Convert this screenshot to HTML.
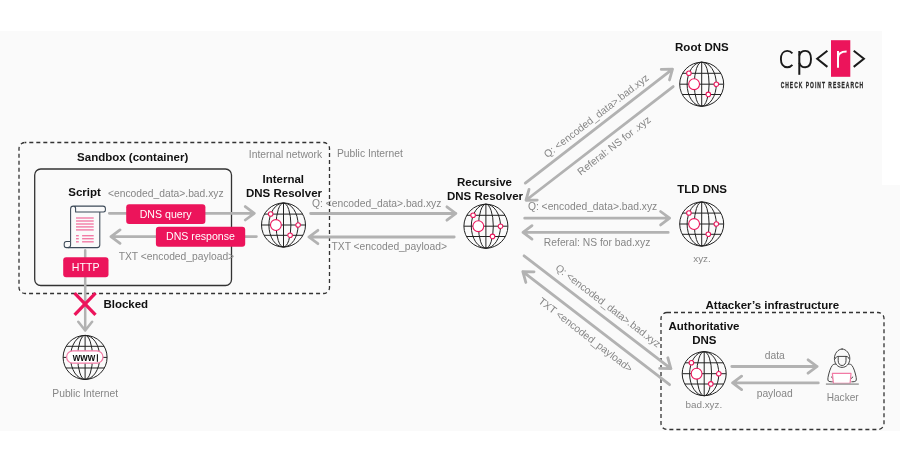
<!DOCTYPE html>
<html><head><meta charset="utf-8">
<style>
html,body{margin:0;padding:0;background:#fff;}
body{width:900px;height:470px;overflow:hidden;}
svg{display:block;will-change:transform;font-family:"Liberation Sans",sans-serif;}
</style></head><body>
<svg width="900" height="470" viewBox="0 0 900 470">
<defs>
<g id="globe">
  <g fill="none" stroke="#222" stroke-width="1.0">
    <circle cx="0" cy="0" r="22"/>
    <ellipse cx="0" cy="0" rx="7.4" ry="22"/>
    <ellipse cx="0" cy="0" rx="14.6" ry="22"/>
    <line x1="0" y1="-22" x2="0" y2="22"/>
    <line x1="-22" y1="0" x2="22" y2="0"/>
    <line x1="-19.1" y1="-10.9" x2="19.1" y2="-10.9"/>
    <line x1="-19.4" y1="10.3" x2="19.4" y2="10.3"/>
  </g>
  <g fill="#fff" stroke="#ec145b" stroke-width="1.05">
    <circle cx="-7.6" cy="0" r="5.4"/>
    <circle cx="-12.8" cy="-11" r="2.3"/>
    <circle cx="14.6" cy="0" r="2.3"/>
    <circle cx="6.6" cy="10.2" r="2.3"/>
  </g>
</g>
<g id="globew">
  <g fill="none" stroke="#222" stroke-width="1.0">
    <circle cx="0" cy="0" r="22"/>
    <ellipse cx="0" cy="0" rx="7.4" ry="22"/>
    <ellipse cx="0" cy="0" rx="14.6" ry="22"/>
    <line x1="0" y1="-22" x2="0" y2="22"/>
    <line x1="-22" y1="0" x2="22" y2="0"/>
    <line x1="-19" y1="-11.1" x2="19" y2="-11.1"/>
    <line x1="-19.1" y1="10.6" x2="19.1" y2="10.6"/>
  </g>
  <rect x="-18.5" y="-6.6" width="36.4" height="12.4" rx="6.2" fill="#fff" stroke="#f27aa5" stroke-width="1.25"/>
</g>
</defs>

<rect x="0" y="31" width="900" height="400" fill="#fafafa"/>
<rect x="882" y="0" width="18" height="185" fill="#fff"/>
<rect x="19" y="142.5" width="310.5" height="151" rx="6" fill="none" stroke="#333" stroke-width="1.3" stroke-dasharray="4 3" stroke-dashoffset="2.7"/>
<rect x="34.7" y="169" width="196.8" height="116.5" rx="6" fill="none" stroke="#333" stroke-width="1.3"/>
<rect x="661" y="312.5" width="223" height="117" rx="6" fill="none" stroke="#333" stroke-width="1.3" stroke-dasharray="4 3"/>
<g fill="none" stroke="#b2b2b2" stroke-width="2.8" stroke-linecap="round" stroke-linejoin="round"><path d="M109.30,213.30 L254.30,213.30 M245.30,220.00 L254.30,213.30 L245.30,206.60"/><path d="M256.40,236.60 L111.00,236.60 M120.00,229.90 L111.00,236.60 L120.00,243.30"/><path d="M310.60,213.50 L455.90,213.50 M446.90,220.20 L455.90,213.50 L446.90,206.80"/><path d="M454.20,237.00 L308.90,237.00 M317.90,230.30 L308.90,237.00 L317.90,243.70"/><path d="M525.31,183.14 L672.49,69.16 M669.48,79.97 L672.49,69.16 L661.28,69.37"/><path d="M673.19,86.56 L526.01,200.24 M529.03,189.44 L526.01,200.24 L537.23,200.04"/><path d="M524.70,218.20 L669.60,218.20 M660.60,224.90 L669.60,218.20 L660.60,211.50"/><path d="M668.20,232.40 L523.00,232.40 M532.00,225.70 L523.00,232.40 L532.00,239.10"/><path d="M524.11,255.85 L670.89,368.55 M659.67,368.38 L670.89,368.55 L667.83,357.75"/><path d="M669.59,384.65 L522.81,271.65 M534.03,271.83 L522.81,271.65 L525.85,282.45"/><path d="M731.80,366.50 L817.10,366.50 M808.10,373.20 L817.10,366.50 L808.10,359.80"/><path d="M818.30,382.90 L732.60,382.90 M741.60,376.20 L732.60,382.90 L741.60,389.60"/></g>
<g fill="none" stroke="#b2b2b2" stroke-width="2.5" stroke-linecap="round" stroke-linejoin="round"><path d="M85.20,250.30 L85.20,330.60 M78.30,321.80 L85.20,330.60 L92.10,321.80"/></g>
<rect x="126.2" y="204.2" width="79.2" height="19.7" rx="3" fill="#ec145b"/>
<rect x="155.9" y="226.7" width="89.3" height="20.1" rx="3" fill="#ec145b"/>
<rect x="63.2" y="257.2" width="45.3" height="20.1" rx="3" fill="#ec145b"/>
<text x="165.6" y="217.6" font-size="10.6" font-weight="400" fill="#fff" text-anchor="middle" >DNS query</text>
<text x="200.5" y="240.1" font-size="10.6" font-weight="400" fill="#fff" text-anchor="middle" >DNS response</text>
<text x="85.7" y="271" font-size="10.6" font-weight="400" fill="#fff" text-anchor="middle" >HTTP</text>
<g stroke="#ec145b" stroke-width="3.3"><line x1="74.6" y1="293.2" x2="95.5" y2="314.8"/><line x1="95.5" y1="293.2" x2="74.6" y2="314.8"/></g>
<use href="#globe" x="283.5" y="225"/>
<use href="#globe" x="485.9" y="226.2"/>
<use href="#globe" x="701.7" y="84.2"/>
<use href="#globe" x="701.7" y="224"/>
<use href="#globe" x="704.2" y="373.7"/>
<use href="#globew" x="85.1" y="357.4"/>
<g transform="translate(83.9,360.6) scale(0.86,1)"><text x="0" y="0" font-size="11.2" font-weight="700" fill="#111" text-anchor="middle" >www</text></g>
<line x1="97.4" y1="354.3" x2="97.4" y2="361.8" stroke="#111" stroke-width="1.1"/>
<g fill="none" stroke="#3d4a58" stroke-width="1.05" stroke-linejoin="round">
<path d="M70.6,241.5 V209 Q70.6,206.1 73.3,206.1 H103 Q105.4,206.1 105.4,208.6 V210 Q105.4,212 103.4,212 H75.6 V208.6 Q75.6,206.1 73.3,206.1"/>
<path d="M99.8,212 V245 Q99.8,247.6 97.2,247.6 H68"/>
<path d="M70.6,241.4 H66.4 Q64.2,241.4 64.2,243.8 V245.2 Q64.2,247.6 66.6,247.6 H68 Q70.6,247.6 70.6,245 V241.4"/>
</g>
<g stroke="#f27aa5" stroke-width="1.4"><line x1="76" y1="218" x2="93.7" y2="218"/><line x1="76" y1="221" x2="93.7" y2="221"/><line x1="76" y1="224" x2="93.7" y2="224"/><line x1="76" y1="226.9" x2="93.7" y2="226.9"/><line x1="76" y1="229.9" x2="93.7" y2="229.9"/><line x1="76" y1="235.7" x2="78.8" y2="235.7"/><line x1="82.1" y1="235.7" x2="93.7" y2="235.7"/><line x1="76" y1="238.7" x2="78.8" y2="238.7"/><line x1="82.1" y1="238.7" x2="93.7" y2="238.7"/><line x1="76" y1="241.8" x2="78.8" y2="241.8"/><line x1="82.1" y1="241.8" x2="93.7" y2="241.8"/></g>
<g fill="none" stroke="#3a3a3a" stroke-width="0.95" stroke-linecap="round" stroke-linejoin="round">
<path d="M842.1,349 C846.3,349 849.8,353.6 849.8,358.6 C849.8,363.6 846.4,367.4 842.1,367.4 C837.8,367.4 834.4,363.6 834.4,358.6 C834.4,353.6 837.9,349 842.1,349 Z"/>
<path d="M835.2,358.6 C835.8,357.1 836.8,356.4 838.3,356.4 L846,356.4 C847.5,356.4 848.5,357.1 849,358.6"/>
<path d="M838.2,356.5 L838.2,360.8 C838.2,363.6 839.9,365.5 842.1,365.5 C844.3,365.5 846,363.6 846,360.8 L846,356.5"/>
<path d="M835.8,364 C834.3,363.9 833,364.5 832.2,365.5 C830.5,367.8 829.2,372 828.3,376 C827.8,378.3 827.6,380 828.4,381 C829,381.6 830.5,381.8 832.4,381.8"/>
<path d="M848.4,364 C849.9,363.9 851.2,364.5 852,365.5 C853.7,367.8 855,372 855.9,376 C856.4,378.3 856.6,380 855.8,381 C855.2,381.6 853.7,381.8 851.8,381.8"/>
<path d="M831.4,377 L832.9,378.4"/>
<path d="M852.8,377 L851.3,378.4"/>
</g>
<path d="M832.4,373.4 H851 L850.1,383.4 H833.4 Z" fill="#fff" stroke="#f27aa5" stroke-width="1.2" stroke-linejoin="round"/>
<line x1="825.9" y1="384.1" x2="858.8" y2="384.1" stroke="#aaa" stroke-width="1.7"/>
<text x="132.7" y="160.8" font-size="11.5" font-weight="700" fill="#111" text-anchor="middle" >Sandbox (container)</text>
<text x="84.6" y="196" font-size="11.5" font-weight="700" fill="#111" text-anchor="middle" >Script</text>
<text x="283.3" y="183.4" font-size="11.5" font-weight="700" fill="#111" text-anchor="middle" >Internal</text>
<text x="284" y="196.7" font-size="11.5" font-weight="700" fill="#111" text-anchor="middle" >DNS Resolver</text>
<text x="484.5" y="185.9" font-size="11.5" font-weight="700" fill="#111" text-anchor="middle" >Recursive</text>
<text x="485" y="199.5" font-size="11.5" font-weight="700" fill="#111" text-anchor="middle" >DNS Resolver</text>
<text x="701.9" y="50.9" font-size="11.5" font-weight="700" fill="#111" text-anchor="middle" >Root DNS</text>
<text x="702.1" y="193" font-size="11.5" font-weight="700" fill="#111" text-anchor="middle" >TLD DNS</text>
<text x="704" y="329.8" font-size="11.5" font-weight="700" fill="#111" text-anchor="middle" >Authoritative</text>
<text x="704.3" y="343.6" font-size="11.5" font-weight="700" fill="#111" text-anchor="middle" >DNS</text>
<text x="772.3" y="308.9" font-size="11.5" font-weight="700" fill="#111" text-anchor="middle" >Attacker’s infrastructure</text>
<text x="103.4" y="307.9" font-size="11.5" font-weight="700" fill="#111" text-anchor="start" >Blocked</text>
<text x="285.5" y="157.9" font-size="10.3" font-weight="400" fill="#868686" text-anchor="middle" >Internal network</text>
<text x="369.9" y="156.7" font-size="10.3" font-weight="400" fill="#868686" text-anchor="middle" >Public Internet</text>
<text x="165.8" y="197.3" font-size="10.3" font-weight="400" fill="#868686" text-anchor="middle" >&lt;encoded_data&gt;.bad.xyz</text>
<text x="176.4" y="260.2" font-size="10.3" font-weight="400" fill="#868686" text-anchor="middle" >TXT &lt;encoded_payload&gt;</text>
<text x="376.7" y="207.4" font-size="10.3" font-weight="400" fill="#868686" text-anchor="middle" >Q: &lt;encoded_data&gt;.bad.xyz</text>
<text x="389.2" y="249.6" font-size="10.3" font-weight="400" fill="#868686" text-anchor="middle" >TXT &lt;encoded_payload&gt;</text>
<text x="592.6" y="210.3" font-size="10.3" font-weight="400" fill="#868686" text-anchor="middle" >Q: &lt;encoded_data&gt;.bad.xyz</text>
<text x="597.1" y="246" font-size="10.3" font-weight="400" fill="#868686" text-anchor="middle" >Referal: NS for bad.xyz</text>
<text x="702" y="261.5" font-size="9.9" font-weight="400" fill="#868686" text-anchor="middle" >xyz.</text>
<text x="703.8" y="408.4" font-size="9.9" font-weight="400" fill="#868686" text-anchor="middle" >bad.xyz.</text>
<text x="774.8" y="359.3" font-size="10.3" font-weight="400" fill="#868686" text-anchor="middle" >data</text>
<text x="774.7" y="396.5" font-size="10.3" font-weight="400" fill="#868686" text-anchor="middle" >payload</text>
<text x="842.7" y="401.4" font-size="10.1" font-weight="400" fill="#868686" text-anchor="middle" >Hacker</text>
<text x="85.2" y="397.3" font-size="10.3" font-weight="400" fill="#868686" text-anchor="middle" >Public Internet</text>
<g transform="translate(596.6,116.2) rotate(-37.7)"><text x="0" y="3" font-size="10.3" font-weight="400" fill="#868686" text-anchor="middle" >Q: &lt;encoded_data&gt;.bad.xyz</text></g>
<g transform="translate(614.3,146) rotate(-37.7)"><text x="0" y="3" font-size="10.3" font-weight="400" fill="#868686" text-anchor="middle" >Referal: NS for .xyz</text></g>
<g transform="translate(607.8,306.2) rotate(37.5)"><text x="0" y="3" font-size="10.3" font-weight="400" fill="#868686" text-anchor="middle" >Q: &lt;encoded_data&gt;.bad.xyz</text></g>
<g transform="translate(585.4,335.2) rotate(37.5)"><text x="0" y="3" font-size="10.3" font-weight="400" fill="#868686" text-anchor="middle" >TXT &lt;encoded_payload&gt;</text></g>
<rect x="831" y="40.2" width="19.3" height="36.6" fill="#ec145b"/>
<g fill="none" stroke="#1a1a1a" stroke-width="2">
<path stroke-width="1.9" d="M792.4,53.4 C790.9,51.6 789.3,50.9 787.2,50.9 C783.2,50.9 780.9,54.3 780.9,59.1 C780.9,63.9 783.2,67.3 787.2,67.3 C789.3,67.3 790.9,66.6 792.4,64.8"/>
<line x1="799.3" y1="51" x2="799.3" y2="74.8"/>
<path stroke-width="1.9" d="M799.3,55.5 C800.2,52.4 802.4,50.9 805.3,50.9 C809.1,50.9 811,54.5 811,59.1 C811,63.7 809.1,67.3 805.3,67.3 C802.4,67.3 800.2,65.8 799.3,62.7"/>
<polyline points="827.4,50.8 817.2,58.8 827.4,66.9"/>
<polyline points="853.7,50.8 863.9,58.8 853.7,66.9"/>
</g>
<g fill="none" stroke="#fff" stroke-width="2"><line x1="838" y1="51" x2="838" y2="67.8"/><path d="M838,58 Q838,51.5 846.6,51.5"/></g>
<g transform="translate(780.7,87.8) scale(0.6,1)"><text x="0" y="0" font-size="8.3" font-weight="700" fill="#2a2a2a" stroke="#2a2a2a" stroke-width="0.3" textLength="137.50" lengthAdjust="spacing">CHECK POINT RESEARCH</text></g>
</svg></body></html>
